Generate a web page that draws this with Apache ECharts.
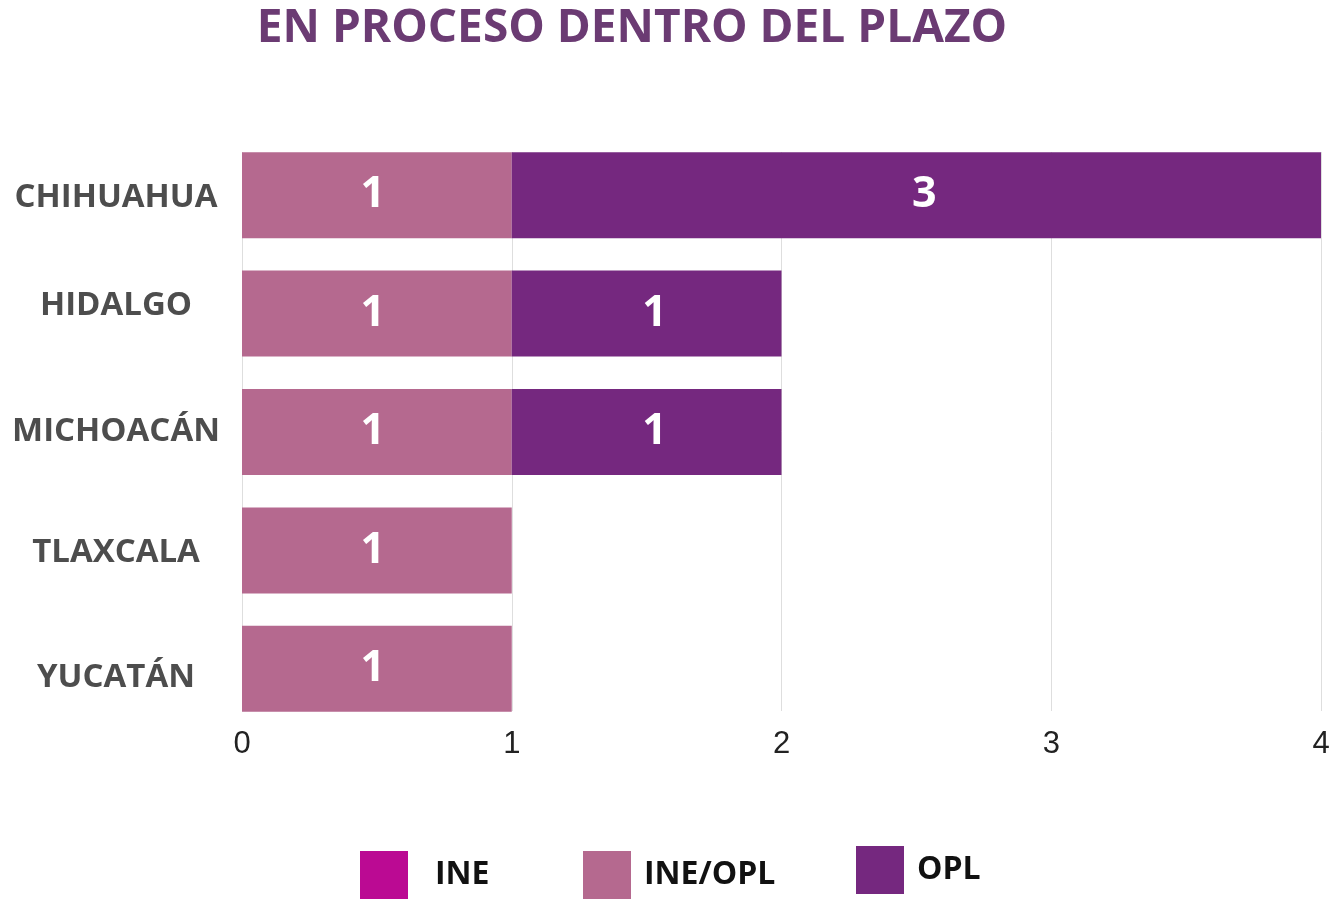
<!DOCTYPE html>
<html>
<head>
<meta charset="utf-8">
<script src="https://cdn.jsdelivr.net/npm/echarts@6/dist/echarts.min.js"></script>
<style>
  html, body { margin: 0; padding: 0; background: #fff; }
  #chart { width: 1335px; height: 900px; }
</style>
</head>
<body>
<div id="chart"></div>
<script>
const estados = ['CHIHUAHUA', 'HIDALGO', 'MICHOACÁN', 'TLAXCALA', 'YUCATÁN'];
const ine = [0, 0, 0, 0, 0];
const ineOpl = [1, 1, 1, 1, 1];
const opl = [3, 1, 1, 0, 0];
const xTicks = [0, 1, 2, 3, 4];

const colores = { INE: '#bb0a93', 'INE/OPL': '#b5698f', OPL: '#75287f' };
// pequeño desfase vertical de cada etiqueta de estado (como en la imagen original)
const desfaseEtiqueta = [2, -8, 0, 2, 9];

const chart = echarts.init(document.getElementById('chart'), null, { renderer: 'canvas' });

// estilos rich: uno por estado, con el desfase como padding
const richEstados = {};
desfaseEtiqueta.forEach((d, i) => {
    richEstados['e' + i] = {
        fontFamily: 'Open Sans',
        fontWeight: 'bold',
        fontSize: 33,
        color: '#4d4d4d',
        padding: d > 0 ? [d * 2, 0, 0, 0] : [0, 0, -d * 2, 0]
    };
});

// solo mostrar la etiqueta si hay valor
function etiqueta(dx) {
    return {
        show: true,
        position: 'inside',
        offset: [dx, 0],
        color: '#ffffff',
        fontFamily: 'Open Sans',
        fontWeight: 'bold',
        fontSize: 43,
        formatter: p => (p.value > 0 ? p.value : '')
    };
}

function serie(nombre, datos, dx) {
    return {
        name: nombre,
        type: 'bar',
        stack: 'total',
        xAxisIndex: 0,
        yAxisIndex: 0,
        barWidth: 86,
        data: datos,
        itemStyle: { color: colores[nombre] },
        label: etiqueta(dx)
    };
}

function leyenda(nombre, x, y, sep) {
    return {
        data: [nombre],
        left: x,
        top: y,
        padding: 0,
        orient: 'horizontal',
        itemWidth: 48,
        itemHeight: 48,
        icon: 'rect',
        selectedMode: false,
        textStyle: {
            fontFamily: 'Open Sans', fontWeight: 'bold', fontSize: 32, color: '#111',
            padding: [5, 0, 0, sep]
        }
    };
}

const option = {
    backgroundColor: '#ffffff',
    animation: false,
    title: {
        text: 'EN PROCESO DENTRO DEL PLAZO',
        left: 627,
        textAlign: 'center',
        top: 1,
        textStyle: { fontFamily: 'Open Sans', fontWeight: 'bold', fontSize: 46, color: '#6b3b73' }
    },
    legend: [
        leyenda('INE', 360, 851, 22),
        leyenda('INE/OPL', 583, 851, 8),
        leyenda('OPL', 856, 846, 8)
    ],
    grid: [
        { left: 242, right: 14, top: 136, bottom: 172, containLabel: false, outerBoundsMode: 'none' },
        { left: 242, right: 14, top: 152, bottom: 189, containLabel: false, outerBoundsMode: 'none' }
    ],
    xAxis: [
        { type: 'value', gridIndex: 0, min: 0, max: 4, interval: 1, show: false },
        {
            type: 'value', gridIndex: 1, min: 0, max: 4, interval: 1,
            axisLine: { show: false },
            axisTick: { show: false },
            splitLine: { show: true, lineStyle: { color: '#dedede', width: 1 } },
            axisLabel: {
                margin: 18,
                fontFamily: 'Liberation Sans Narrow, Arial Narrow, Liberation Sans, sans-serif',
                fontSize: 31,
                color: '#222',
                formatter: v => (xTicks.indexOf(v) >= 0 ? String(v) : '')
            }
        }
    ],
    yAxis: [
        {
            type: 'category', gridIndex: 0, inverse: true,
            data: estados,
            axisLine: { show: false },
            axisTick: { show: false },
            axisLabel: {
                margin: 126,
                align: 'center',
                fontFamily: 'Open Sans',
                fontWeight: 'bold',
                fontSize: 33,
                color: '#4d4d4d',
                formatter: (v, i) => '{e' + i + '|' + v + '}',
                rich: richEstados
            }
        },
        { type: 'value', gridIndex: 1, show: false, min: 0, max: 1 }
    ],
    series: [
        serie('INE', ine, 0),
        serie('INE/OPL', ineOpl, -4),
        serie('OPL', opl, 8)
    ]
};

chart.setOption(option);
</script>
</body>
</html>
